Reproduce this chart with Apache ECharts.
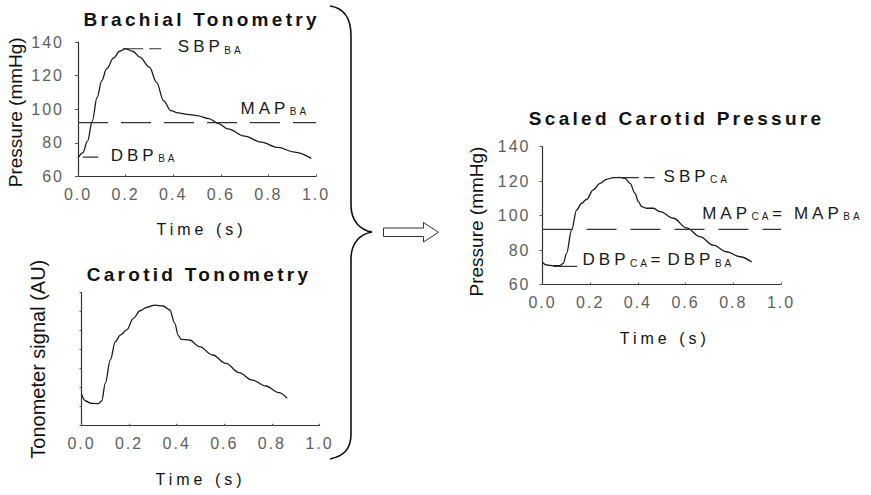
<!DOCTYPE html>
<html>
<head>
<meta charset="utf-8">
<script src="https://cdn.jsdelivr.net/npm/echarts@6/dist/echarts.min.js"></script>
<style>
  html, body { margin: 0; padding: 0; background: #fff; }
  #chart { width: 871px; height: 495px; }
  /* letter tracking for the wide-set captions (SVG text honours CSS letter-spacing) */
  #chart text[style*="trk-title"] { letter-spacing: 3.3px; }
  #chart text[style*="trk-name"]  { letter-spacing: 4px; }
  #chart text[style*="trk-tick"]  { letter-spacing: 2px; }
  #chart text[style*="trk-note"]  { letter-spacing: 4px; }
  #chart text[style*="trk-sub"]   { letter-spacing: 3px; }
</style>
</head>
<body>
<div id="chart"></div>
<script>
// ---- waveforms -------------------------------------------------------------
// Brachial tonometry, pressure in mmHg over one beat
const brachialTime = [0, 0.02, 0.04, 0.06, 0.08, 0.1, 0.12, 0.15, 0.175, 0.2, 0.23, 0.26, 0.3, 0.33,
  0.36, 0.39, 0.42, 0.46, 0.5, 0.55, 0.59, 0.63, 0.7, 0.77, 0.84, 0.91, 0.98];
const brachialPressure = [71, 74, 81, 93, 107, 117, 124, 130.5, 134.5, 136, 134.5, 131, 125, 116,
  105, 99.2, 97.8, 97, 96.2, 94.4, 91.5, 88.3, 84, 80.4, 77.3, 74.5, 70.8];

// Carotid tonometry, raw signal in arbitrary units
const carotidTime = [0, 0.017, 0.04, 0.07, 0.085, 0.1, 0.121, 0.142, 0.163, 0.19, 0.218, 0.246, 0.274,
  0.308, 0.343, 0.371, 0.392, 0.406, 0.419, 0.454, 0.496, 0.551, 0.607, 0.662, 0.718, 0.774, 0.829, 0.864];
const carotidSignal = [1.65, 1.3, 1.18, 1.16, 1.3, 2.23, 3.46, 4.42, 4.77, 5.04, 5.65, 6.05, 6.23,
  6.35, 6.3, 6.09, 5.39, 4.77, 4.54, 4.51, 4.16, 3.72, 3.28, 2.79, 2.4, 2.09, 1.74, 1.44];

// Carotid waveform scaled to brachial MAP and DBP, mmHg
const scaledTime = [0, 0.017, 0.045, 0.073, 0.087, 0.101, 0.122, 0.143, 0.164, 0.185, 0.213, 0.241,
  0.269, 0.297, 0.325, 0.346, 0.367, 0.388, 0.402, 0.416, 0.437, 0.465, 0.493, 0.549, 0.604, 0.66,
  0.716, 0.772, 0.828, 0.877];
const scaledPressure = [72.8, 71.3, 70.9, 70.9, 72.3, 78.1, 91.6, 103.2, 107.1, 109.4, 114.8, 118.6,
  121, 121.9, 122.1, 121.5, 118.6, 112.9, 108, 105.1, 104.2, 104.2, 102.2, 98.4, 92.8, 87.7,
  82.8, 79, 76.1, 73];

// ---- reference pressures (mmHg) and the time span of each guide (s) --------
const sbpBA = 136, mapBA = 92, dbpBA = 71.5;
const sbpCA = 122, mapCA = mapBA, dbpCA = 70.5;
const sbpBASpan = [0.19, 0.35];
const dbpBASpan = [0.02, 0.085];
const sbpCASpan = [0.32, 0.47];
const dbpCASpan = [0.045, 0.145];

// ---- axis ticks --------------------------------------------------------------
const pressureTicks = [60, 80, 100, 120, 140];
const timeTicks = [0.0, 0.2, 0.4, 0.6, 0.8, 1.0];
const signalTicks = [0, 1, 2, 3, 4, 5, 6, 7];

const zip = (xs, ys) => xs.map((x, i) => [x, ys[i]]);

// ---- text helpers -------------------------------------------------------------
const FAMILY = 'Liberation Sans';
const measureCtx = document.createElement('canvas').getContext('2d');
// width of a tracked run, including the spacing after its last letter
function trackedWidth(text, size, spacing) {
  measureCtx.font = size + 'px ' + FAMILY;
  return measureCtx.measureText(text).width + spacing * text.length + 0.5;
}

const noteStyle = { fontFamily: FAMILY + ', trk-note', fontSize: 17, lineHeight: 20, verticalAlign: 'bottom' };
const subStyle = { fontFamily: FAMILY + ', trk-sub', fontSize: 10, lineHeight: 12, verticalAlign: 'bottom' };
const noteRich = {};
['SBP', 'MAP', 'DBP'].forEach(w => {
  noteRich['m' + w] = Object.assign({ width: trackedWidth(w, 17, 4) }, noteStyle);
});
['BA', 'CA'].forEach(w => {
  noteRich['s' + w] = Object.assign({ width: trackedWidth(w, 10, 3) }, subStyle);
});
noteRich.eqM = Object.assign({ width: 22 }, noteStyle);
noteRich.eqD = Object.assign({ width: 17 }, noteStyle);

function step(ticks) { return ticks[1] - ticks[0]; }

function timeAxis(gridIndex, nameGap, namePad) {
  return {
    type: 'value', gridIndex,
    min: timeTicks[0], max: timeTicks[timeTicks.length - 1], interval: step(timeTicks),
    name: 'Time (s)', nameLocation: 'middle', nameGap, nameMoveOverlap: false,
    nameTextStyle: { fontFamily: FAMILY + ', trk-name', fontSize: 16, color: '#111', padding: namePad },
    axisLine: { show: true, lineStyle: { color: '#333', width: 1.2 } },
    axisTick: { show: true, inside: true, length: 2, lineStyle: { color: '#555' } },
    axisLabel: {
      margin: 10, fontFamily: FAMILY + ', trk-tick', fontSize: 16, color: '#606060',
      formatter: v => v.toFixed(1)
    },
    splitLine: { show: false }
  };
}

function pressureAxis(gridIndex, nameGap, margin, namePad) {
  return {
    type: 'value', gridIndex,
    min: pressureTicks[0], max: pressureTicks[pressureTicks.length - 1], interval: step(pressureTicks),
    name: 'Pressure (mmHg)', nameLocation: 'middle', nameRotate: 90, nameGap, nameMoveOverlap: false,
    nameTextStyle: { fontFamily: FAMILY, fontSize: 19, color: '#111', padding: namePad },
    axisLine: { show: true, lineStyle: { color: '#333', width: 1.2 } },
    axisTick: { show: true, length: 3, lineStyle: { color: '#555' } },
    axisLabel: { margin, fontFamily: FAMILY + ', trk-tick', fontSize: 16, color: '#606060' },
    splitLine: { show: false }
  };
}

function curve(name, data, xi, yi) {
  return {
    name, type: 'line', data, xAxisIndex: xi, yAxisIndex: yi,
    showSymbol: false, smooth: 0.35, smoothMonotone: 'x', silent: true,
    lineStyle: { color: '#1a1a1a', width: 1.3 }
  };
}

// dashed reference level with its caption attached to the right-hand end
function guide(name, span, level, idx, dash, text, offset) {
  return {
    name, type: 'line', xAxisIndex: idx, yAxisIndex: idx, silent: true,
    data: [[span[0], level], [span[1], level]],
    showSymbol: false,
    lineStyle: { color: '#333', width: 1.2, type: dash },
    markPoint: {
      silent: true, symbol: 'circle', symbolSize: 1,
      itemStyle: { color: 'rgba(0,0,0,0)' },
      data: [{ coord: [span[1], level] }],
      label: {
        show: true, position: 'right', distance: 0, offset,
        color: '#1a1a1a', formatter: () => text, rich: noteRich
      }
    }
  };
}

// stroke style shared by the pieces of the curly brace
const braceStyle = { stroke: '#111', lineWidth: 1.6, fill: null };
function braceCurve(x1, y1, cpx1, cpy1, cpx2, cpy2, x2, y2) {
  return { type: 'bezierCurve', silent: true, shape: { x1, y1, cpx1, cpy1, cpx2, cpy2, x2, y2 }, style: braceStyle };
}
function braceLine(x1, y1, x2, y2) {
  return { type: 'line', silent: true, shape: { x1, y1, x2, y2 }, style: braceStyle };
}

const chart = echarts.init(document.getElementById('chart'), null, { renderer: 'svg' });

chart.setOption({
  animation: false,
  backgroundColor: '#fff',
  grid: [
    { left: 78, top: 42, width: 238, height: 134.5, outerBoundsMode: 'none' },
    { left: 81.5, top: 292.7, width: 238, height: 133, outerBoundsMode: 'none' },
    { left: 542.5, top: 146.5, width: 238.5, height: 138, outerBoundsMode: 'none' }
  ],
  xAxis: [
    timeAxis(0, 44.5, [0, 0, 0, 9]),
    timeAxis(1, 46, [0, 0, 0, 0]),
    timeAxis(2, 46, [0, 0, 0, 6])
  ],
  yAxis: [
    pressureAxis(0, 53, 14, [0, 6, 0, 0]),
    {
      type: 'value', gridIndex: 1,
      min: signalTicks[0], max: signalTicks[signalTicks.length - 1], interval: step(signalTicks),
      name: 'Tonometer signal (AU)', nameLocation: 'middle', nameRotate: 90, nameGap: 34, nameMoveOverlap: false,
      nameTextStyle: { fontFamily: FAMILY, fontSize: 20, color: '#111' },
      axisLine: { show: true, lineStyle: { color: '#333', width: 1.2 } },
      axisTick: { show: true, length: 2, lineStyle: { color: '#555' } },
      axisLabel: { show: false },
      splitLine: { show: false }
    },
    pressureAxis(2, 56.7, 12, [0, 12, 0, 0])
  ],
  series: [
    curve('Brachial', zip(brachialTime, brachialPressure), 0, 0),
    guide('SBP BA', sbpBASpan, sbpBA, 0, [20, 6], '{mSBP|SBP}{sBA|BA}', [16, -3.7]),
    guide('MAP BA', [timeTicks[0], timeTicks[timeTicks.length - 1]], mapBA, 0, [30, 13], '{mMAP|MAP}{sBA|BA}', [-76, -16]),
    guide('DBP BA', dbpBASpan, dbpBA, 0, 'solid', '{mDBP|DBP}{sBA|BA}', [12, -3.5]),

    curve('Carotid', zip(carotidTime, carotidSignal), 1, 1),

    curve('Scaled carotid', zip(scaledTime, scaledPressure), 2, 2),
    guide('SBP CA', sbpCASpan, sbpCA, 2, [20, 5], '{mSBP|SBP}{sCA|CA}', [8.5, -3]),
    guide('MAP CA', [timeTicks[0], timeTicks[timeTicks.length - 1]], mapCA, 2, [30, 14],
      '{mMAP|MAP}{sCA|CA}{eqM|=}{mMAP|MAP}{sBA|BA}', [-79.3, -17.6]),
    guide('DBP CA', dbpCASpan, dbpCA, 2, 'solid', '{mDBP|DBP}{sCA|CA}{eqD|=}{mDBP|DBP}{sBA|BA}', [5, -8])
  ],
  graphic: [
    {
      type: 'text', x: 201.6, y: 19.5, silent: true,
      style: { text: 'Brachial Tonometry', font: 'bold 19px ' + FAMILY + ', trk-title', fill: '#111', align: 'center', verticalAlign: 'middle' }
    },
    {
      type: 'text', x: 199, y: 274, silent: true,
      style: { text: 'Carotid Tonometry', font: 'bold 19px ' + FAMILY + ', trk-title', fill: '#111', align: 'center', verticalAlign: 'middle' }
    },
    {
      type: 'text', x: 676.6, y: 118.8, silent: true,
      style: { text: 'Scaled Carotid Pressure', font: 'bold 19px ' + FAMILY + ', trk-title', fill: '#111', align: 'center', verticalAlign: 'middle' }
    },
    // curly brace grouping the two input panels
    braceCurve(330, 6, 344, 8, 351, 18, 351, 36),
    braceLine(351, 36, 351, 205),
    braceCurve(351, 205, 351, 221, 360, 230, 372, 232),
    braceCurve(372, 232, 360, 234, 351, 243, 351, 259),
    braceLine(351, 259, 351, 434),
    braceCurve(351, 434, 351, 449, 344, 456, 330, 459),
    // hollow arrow towards the scaled result
    {
      type: 'polygon', silent: true,
      shape: { points: [[383.5, 228], [423.5, 228], [423.5, 222.5], [438.5, 232.3], [423.5, 242], [423.5, 236.5], [383.5, 236.5]] },
      style: { stroke: '#333', lineWidth: 1, fill: '#fff' }
    }
  ]
});
</script>
</body>
</html>
